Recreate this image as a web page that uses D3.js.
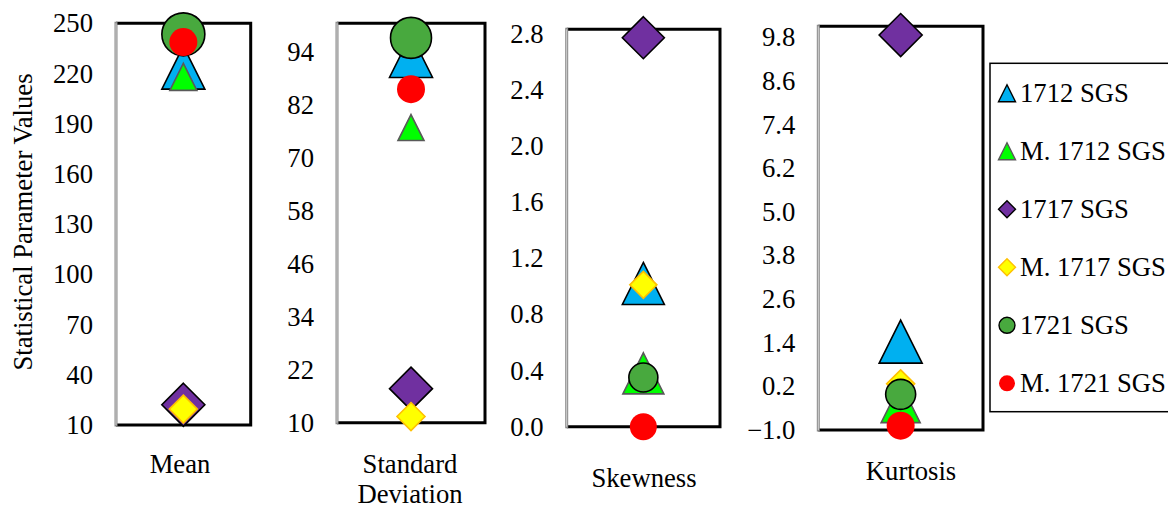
<!DOCTYPE html>
<html>
<head>
<meta charset="utf-8">
<script src="https://cdn.jsdelivr.net/npm/d3@7"></script>
<style>
  html, body { margin: 0; padding: 0; background: #fff; }
  svg { display: block; }
</style>
</head>
<body>
<div id="chart"></div>
<script>
// Parameters (one small panel each) and the plotted series
const parameters = ['Mean', 'Standard Deviation', 'Skewness', 'Kurtosis'];
const seriesNames = ['1712 SGS', 'M. 1712 SGS', '1717 SGS', 'M. 1717 SGS', '1721 SGS', 'M. 1721 SGS'];

// Values, one entry per parameter
const sgs1712 = [223.5, 93.0, 1.02, 1.43];
const mSgs1712 = [218.0, 76.8, 0.38, -0.26];
const sgs1717 = [22.1, 17.7, 2.77, 9.86];
const mSgs1717 = [19.5, 11.4, 1.01, 0.27];
const sgs1721 = [243.4, 97.1, 0.35, -0.02];
const mSgs1721 = [238.8, 85.5, 0.0, -0.88];

// Axis extents and tick labels per panel
const domains = [[10, 250], [10, 100.4], [0, 2.83], [-1, 10.1]];
const meanTicks = [10, 40, 70, 100, 130, 160, 190, 220, 250];
const sdTicks = [10, 22, 34, 46, 58, 70, 82, 94];
const skewTicks = [0.0, 0.4, 0.8, 1.2, 1.6, 2.0, 2.4, 2.8];
const kurtTicks = [-1.0, 0.2, 1.4, 2.6, 3.8, 5.0, 6.2, 7.4, 8.6, 9.8];

const width = 1168;
const height = 510;
const FONT = '"Liberation Serif", "Times New Roman", serif';
const FONT_SIZE = 26.67;

// Panel boxes (left, right, top, bottom) and category label placement
const layout = [
  { x0: 116, x1: 250.7, y0: 23.3, y1: 425, labelX: 180, labelY: [473] },
  { x0: 337, x1: 485, y0: 23.3, y1: 422.7, labelX: 410, labelY: [473, 503] },
  { x0: 566.7, x1: 720, y0: 29.3, y1: 426.7, labelX: 644, labelY: [487] },
  { x0: 818.3, x1: 983, y0: 26.3, y1: 430, labelX: 911, labelY: [480] }
];
const tickSets = [meanTicks, sdTicks, skewTicks, kurtTicks];
const tickFormats = [d3.format('d'), d3.format('d'), d3.format('.1f'), d3.format('.1f')];
const labelLines = [['Mean'], ['Standard', 'Deviation'], ['Skewness'], ['Kurtosis']];

// Marker styles, Excel-like; sizes differ per panel in the original
const seriesStyle = [
  { shape: 'triangle', fill: '#00B0F0', stroke: '#000', sw: 1.6, size: [43, 43, 42, 43] },
  { shape: 'triangle', fill: '#00FF00', stroke: '#595959', sw: 1.6, size: [27, 26, 41, 39] },
  { shape: 'diamond', fill: '#7030A0', stroke: '#000', sw: 1.6, size: [43, 43, 42, 43] },
  { shape: 'diamond', fill: '#FFFF00', stroke: '#FFC000', sw: 1.6, size: [28, 28, 27, 28] },
  { shape: 'circle', fill: '#48A93E', stroke: '#000', sw: 1.6, size: [43, 41, 29, 30] },
  { shape: 'circle', fill: '#FF0000', stroke: 'none', sw: 0, size: [28, 28, 27, 28] }
];
const seriesValues = [sgs1712, mSgs1712, sgs1717, mSgs1717, sgs1721, mSgs1721];

// Marker path centred on (0,0), s = bounding box width
function markerPath(shape, s) {
  const h = s / 2;
  if (shape === 'triangle') return `M0,${-h}L${h},${h}L${-h},${h}Z`;
  if (shape === 'diamond') return `M0,${-h}L${h},0L0,${h}L${-h},0Z`;
  return `M${h},0A${h},${h} 0 1,1 ${-h},0A${h},${h} 0 1,1 ${h},0Z`;
}

const svg = d3.select('#chart').append('svg')
  .attr('width', width)
  .attr('height', height)
  .style('font-family', FONT);

// Y axis title
svg.append('text')
  .attr('transform', 'translate(32, 222) rotate(-90)')
  .attr('text-anchor', 'middle')
  .attr('font-size', FONT_SIZE)
  .attr('fill', '#000')
  .text('Statistical Parameter Values');

parameters.forEach((param, p) => {
  const L = layout[p];
  const cx = (L.x0 + L.x1) / 2;
  const y = d3.scaleLinear().domain(domains[p]).range([L.y1, L.y0]);

  const g = svg.append('g').attr('class', 'panel');

  // Tick labels
  const axis = d3.axisLeft(y)
    .tickValues(tickSets[p])
    .tickSize(0)
    .tickPadding(23)
    .tickFormat(tickFormats[p]);

  const ax = g.append('g')
    .attr('transform', `translate(${L.x0}, 0)`)
    .call(axis);
  ax.select('.domain').remove();
  ax.selectAll('text')
    .attr('font-family', FONT)
    .attr('font-size', FONT_SIZE)
    .attr('fill', '#000');

  // Box: black top/right/bottom, grey axis line on the left
  g.append('path')
    .attr('d', `M${L.x0},${L.y0}H${L.x1}V${L.y1}H${L.x0}`)
    .attr('fill', 'none')
    .attr('stroke', '#000')
    .attr('stroke-width', 3)
    .attr('stroke-linejoin', 'miter');
  g.append('line')
    .attr('x1', L.x0).attr('x2', L.x0)
    .attr('y1', L.y0 - 1.5).attr('y2', L.y1 + 1.5)
    .attr('stroke', '#8a8a8a')
    .attr('stroke-width', 3);
  g.append('line')
    .attr('x1', L.x0).attr('x2', L.x0)
    .attr('y1', L.y0).attr('y2', L.y1)
    .attr('stroke', '#d4d4d4')
    .attr('stroke-width', 1);

  // Markers, drawn in series order so later ones sit on top
  seriesValues.forEach((vals, s) => {
    const st = seriesStyle[s];
    g.append('path')
      .attr('d', markerPath(st.shape, st.size[p]))
      .attr('transform', `translate(${cx}, ${y(vals[p])})`)
      .attr('fill', st.fill)
      .attr('stroke', st.stroke)
      .attr('stroke-width', st.sw)
      .attr('stroke-linejoin', 'miter');
  });

  // Category label under the box
  labelLines[p].forEach((line, i) => {
    g.append('text')
      .attr('x', L.labelX)
      .attr('y', L.labelY[i])
      .attr('text-anchor', 'middle')
      .attr('font-size', FONT_SIZE)
      .attr('fill', '#000')
      .text(line);
  });
});

// Legend box (runs off the right edge, as in the original)
const legend = svg.append('g').attr('class', 'legend');
legend.append('rect')
  .attr('x', 990)
  .attr('y', 63.3)
  .attr('width', 200)
  .attr('height', 348.4)
  .attr('fill', '#fff')
  .attr('stroke', '#000')
  .attr('stroke-width', 1.5);

legend.selectAll('g.item')
  .data(seriesNames)
  .join('g')
  .attr('class', 'item')
  .attr('transform', (d, i) => `translate(1007, ${93.3 + i * 58})`)
  .each(function(name, i) {
    const item = d3.select(this);
    const st = seriesStyle[i];
    item.append('path')
      .attr('d', markerPath(st.shape, st.shape === 'circle' ? 16 : 17))
      .attr('fill', st.fill)
      .attr('stroke', st.stroke)
      .attr('stroke-width', st.sw ? 1.4 : 0);
    item.append('text')
      .attr('x', 13)
      .attr('y', 9)
      .attr('font-size', FONT_SIZE)
      .attr('fill', '#000')
      .text(name);
  });
</script>
</body>
</html>
